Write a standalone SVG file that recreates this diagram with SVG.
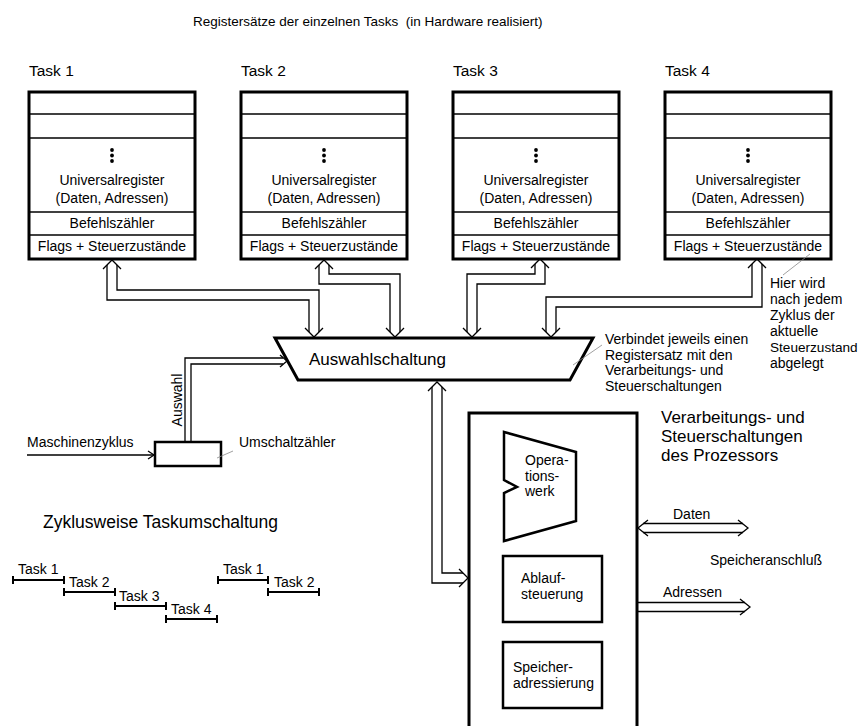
<svg xmlns="http://www.w3.org/2000/svg" width="862" height="726" viewBox="0 0 862 726">
  <style>
    text { font-family: "Liberation Sans", Arial, sans-serif; fill: #000; }
    .reg { font-size: 14px; text-anchor: middle; }
    .lbl { font-size: 15.5px; }
    .note { font-size: 14px; }
    .big { font-size: 17px; }
    .frame { fill: #fff; stroke: #000; stroke-width: 3; }
    .sep { stroke: #000; stroke-width: 1.3; }
    .bus { fill: none; stroke: #000; stroke-width: 1.3; stroke-linejoin: miter; }
    .lead { fill: none; stroke: #888; stroke-width: 0.8; }
    .tl { fill: none; stroke: #000; stroke-width: 2; }
  </style>
  <defs>
    <g id="regset">
      <rect class="frame" x="0" y="0" width="166" height="167"/>
      <line class="sep" x1="0" y1="22" x2="166" y2="22"/>
      <line class="sep" x1="0" y1="46" x2="166" y2="46"/>
      <line class="sep" x1="0" y1="120" x2="166" y2="120"/>
      <line class="sep" x1="0" y1="143" x2="166" y2="143"/>
      <circle cx="83" cy="58" r="1.9"/>
      <circle cx="83" cy="63.5" r="1.9"/>
      <circle cx="83" cy="69" r="1.9"/>
      <text class="reg" x="83" y="93">Universalregister</text>
      <text class="reg" x="83" y="111">(Daten, Adressen)</text>
      <text class="reg" x="83" y="136">Befehlszähler</text>
      <text class="reg" x="83" y="159">Flags + Steuerzustände</text>
    </g>
  </defs>

  <rect width="862" height="726" fill="#fff"/>

  <text x="193" y="26" style="font-size:13.5px">Registersätze der einzelnen Tasks&#160; (in Hardware realisiert)</text>

  <!-- register sets -->
  <g id="task1">
    <text class="lbl" x="29" y="76">Task 1</text>
    <use href="#regset" x="29" y="92"/>
  </g>
  <g id="task2">
    <text class="lbl" x="241" y="76">Task 2</text>
    <use href="#regset" x="241" y="92"/>
  </g>
  <g id="task3">
    <text class="lbl" x="453" y="76">Task 3</text>
    <use href="#regset" x="453" y="92"/>
  </g>
  <g id="task4">
    <text class="lbl" x="665" y="76">Task 4</text>
    <use href="#regset" x="665" y="92"/>
  </g>

  <!-- selector -->
  <g id="auswahlschaltung">
    <polygon points="275,338 593,338 570,380 298,380" fill="#fff" stroke="#000" stroke-width="3"/>
    <text x="309" y="365" class="big">Auswahlschaltung</text>
  </g>

  <!-- switch counter -->
  <g id="umschaltzaehler">
    <rect x="155" y="442" width="66" height="24" fill="#fff" stroke="#000" stroke-width="2.5"/>
    <text class="note" x="239" y="447">Umschaltzähler</text>
  </g>

  <!-- processor block -->
  <g id="prozessor">
    <rect x="469" y="413" width="168" height="330" fill="#fff" stroke="#000" stroke-width="3"/>
    <text class="big" x="661" y="423">Verarbeitungs- und</text>
    <text class="big" x="661" y="442">Steuerschaltungen</text>
    <text class="big" x="661" y="461">des Prozessors</text>
  </g>
  <g id="operationswerk">
    <polygon points="504,432 576,452 576,521 504,541 504,493 517,487 504,480" fill="#fff" stroke="#000" stroke-width="2.5"/>
    <text class="note" x="525" y="465">Opera-</text>
    <text class="note" x="525" y="481">tions-</text>
    <text class="note" x="525" y="496">werk</text>
  </g>
  <g id="ablaufsteuerung">
    <rect x="503" y="556" width="99" height="66" fill="#fff" stroke="#000" stroke-width="2.5"/>
    <text class="note" x="521" y="583">Ablauf-</text>
    <text class="note" x="521" y="599">steuerung</text>
  </g>
  <g id="speicheradressierung">
    <rect x="503" y="642" width="99" height="66" fill="#fff" stroke="#000" stroke-width="2.5"/>
    <text class="note" x="513" y="672">Speicher-</text>
    <text class="note" x="513" y="688">adressierung</text>
  </g>

  <!-- connectors -->
  <g id="connectors">
    <!-- Task 1 <-> selector -->
    <polyline class="bus" points="107,265 107,300 309,300 309,332"/>
    <polyline class="bus" points="117,265 117,290 319,290 319,332"/>
    <polyline class="bus" points="103,269 112,260 121,269"/>
    <polyline class="bus" points="305,328 314,337 323,328"/>

    <!-- Task 2 <-> selector -->
    <polyline class="bus" points="319,265 319,284 390,284 390,332"/>
    <polyline class="bus" points="329,265 329,274 400,274 400,332"/>
    <polyline class="bus" points="315,269 324,260 333,269"/>
    <polyline class="bus" points="386,328 395,337 404,328"/>

    <!-- Task 3 <-> selector -->
    <polyline class="bus" points="535,264 535,274 467,274 467,332"/>
    <polyline class="bus" points="545,264 545,284 477,284 477,332"/>
    <polyline class="bus" points="531,268 540,259 549,268"/>
    <polyline class="bus" points="463,328 472,337 481,328"/>

    <!-- Task 4 <-> selector -->
    <polyline class="bus" points="752,264 752,297 546,297 546,332"/>
    <polyline class="bus" points="762,264 762,307 556,307 556,332"/>
    <polyline class="bus" points="748,268 757,259 766,268"/>
    <polyline class="bus" points="542,328 551,337 560,328"/>

    <!-- selector <-> processor -->
    <polyline class="bus" points="432,387 432,583 463,583"/>
    <polyline class="bus" points="442,387 442,573 463,573"/>
    <polyline class="bus" points="428,391 437,382 446,391"/>
    <polyline class="bus" points="459,569 468,578 459,587"/>

    <!-- counter -> selector (Auswahl) -->
    <polyline class="bus" points="185,442 185,358 283,358"/>
    <polyline class="bus" points="191,442 191,364 283,364"/>
    <polyline class="bus" points="280,355 287,361 280,367"/>
    <text class="note" transform="translate(182,400) rotate(-90)" text-anchor="middle">Auswahl</text>

    <!-- machine cycle -> counter -->
    <line x1="27" y1="455" x2="154" y2="455" stroke="#000" stroke-width="1.3"/>
    <polyline class="bus" points="148,451 154,455 148,459"/>
    <text class="note" x="27" y="447">Maschinenzyklus</text>

    <!-- memory interface -->
    <line class="bus" x1="643" y1="523.5" x2="743" y2="523.5"/>
    <line class="bus" x1="643" y1="532.5" x2="743" y2="532.5"/>
    <polyline class="bus" points="648,520 638,528 648,536"/>
    <polyline class="bus" points="738,520 748,528 738,536"/>
    <text class="note" x="673" y="519">Daten</text>

    <line class="bus" x1="637" y1="602.5" x2="745" y2="602.5"/>
    <line class="bus" x1="637" y1="611.5" x2="745" y2="611.5"/>
    <polyline class="bus" points="740,599 750,607 740,615"/>
    <text class="note" x="663" y="597">Adressen</text>

    <text class="note" x="710" y="565">Speicheranschluß</text>

    <!-- annotations -->
    <line class="lead" x1="573" y1="365" x2="602" y2="345"/>
    <text class="note" x="605" y="344">Verbindet jeweils einen</text>
    <text class="note" x="605" y="359.5">Registersatz mit den</text>
    <text class="note" x="605" y="375">Verarbeitungs- und</text>
    <text class="note" x="605" y="390.5">Steuerschaltungen</text>

    <line class="lead" x1="783" y1="275" x2="810" y2="254"/>
    <text class="note" x="770" y="288">Hier wird</text>
    <text class="note" x="770" y="304">nach jedem</text>
    <text class="note" x="770" y="320">Zyklus der</text>
    <text class="note" x="770" y="336">aktuelle</text>
    <text class="note" x="770" y="352" style="font-size:13.6px">Steuerzustand</text>
    <text class="note" x="770" y="368">abgelegt</text>

    <line class="lead" x1="217" y1="458" x2="233" y2="451"/>
  </g>

  <!-- cyclic task switching timeline -->
  <g id="zeitachse">
    <text x="43" y="528" style="font-size:17.5px">Zyklusweise Taskumschaltung</text>
    <g class="tl">
      <path d="M13,580 H64 M13,576 V584 M64,576 V584"/>
      <path d="M64,592 H115 M64,588 V596 M115,588 V596"/>
      <path d="M115,606 H166 M115,602 V610 M166,602 V610"/>
      <path d="M166,619 H217 M166,615 V623 M217,615 V623"/>
      <path d="M218,580 H268 M218,576 V584 M268,576 V584"/>
      <path d="M268,592 H319 M268,588 V596 M319,588 V596"/>
    </g>
    <text x="18" y="574" style="font-size:14px">Task 1</text>
    <text x="69" y="587" style="font-size:14px">Task 2</text>
    <text x="119" y="601" style="font-size:14px">Task 3</text>
    <text x="171" y="614" style="font-size:14px">Task 4</text>
    <text x="223" y="574" style="font-size:14px">Task 1</text>
    <text x="274" y="587" style="font-size:14px">Task 2</text>
  </g>
</svg>
